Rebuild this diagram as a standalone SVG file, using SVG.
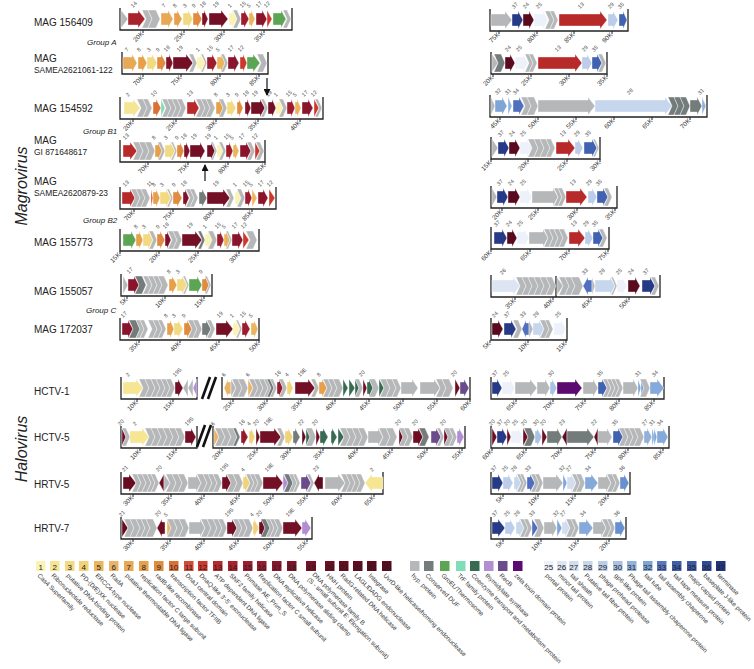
<svg xmlns="http://www.w3.org/2000/svg" width="754" height="669" viewBox="0 0 754 669">
<defs>
<style>
text{font-family:"Liberation Sans",Arial,sans-serif;fill:#222}
.t path{stroke:#fff;stroke-width:.4}
.t path.fr{fill:none;stroke:#222;stroke-width:1.3}
.t path.tk{fill:none;stroke:#222;stroke-width:1}
.nm{font-size:10px}
.sm{font-size:8.4px}
.n{font-size:5.5px;fill:#444}
.k{font-size:6.5px;fill:#333;text-anchor:end}
.gp{font-size:8px;font-style:italic}
.big{font-size:16px;font-style:italic;text-anchor:middle}
.lg text{font-size:6.3px;fill:#333}
.ln{font-size:8px;text-anchor:middle;fill:#222}
.g{fill:#B5B7B9}.d{fill:#737C7B}.gr{fill:#5BA553}.tr{fill:#7FDDB7}.cz{fill:#386B52}.th{fill:#B18ED1}.rb{fill:#6A4C8C}.zt{fill:#5C0A72}
.c1{fill:#FBF3B3}.c2{fill:#F6E593}.c3{fill:#F2DA82}.c4{fill:#F0D377}.c5{fill:#EAB55B}.c6{fill:#EAB468}.c7{fill:#E7A953}.c8{fill:#E6A04A}
.c9{fill:#E18B3E}.c10{fill:#DB7034}.c11{fill:#D34A36}.c12{fill:#CC392C}.c13{fill:#B8292A}.c14{fill:#A9232C}.c15{fill:#9D1C2E}.c16{fill:#961A2E}
.c17{fill:#8A142C}.c18{fill:#7F1228}.c19{fill:#741026}.c20{fill:#6D0E23}.c21{fill:#660C20}.c22{fill:#620B21}.c23{fill:#5D0B1F}.c24{fill:#590A1E}
.b25{fill:#EDF1FA}.b26{fill:#DDE5F2}.b27{fill:#D2DEF0}.b28{fill:#C6D6EC}.b29{fill:#BBCDE8}.b30{fill:#A9C2E3}.b31{fill:#90B1DC}.b32{fill:#7FA5D6}
.b33{fill:#4E70BE}.b34{fill:#84A9DA}.b35{fill:#4062B0}.b36{fill:#6690CE}.b37{fill:#273A88}
.con{stroke:#111;stroke-width:1.2;fill:none}
.brk{stroke:#111;stroke-width:2.6}
</style>
<marker id="ah" markerUnits="userSpaceOnUse" markerWidth="7" markerHeight="7" refX="6" refY="3.5" orient="auto"><path d="M0 0L7 3.5L0 7Z" fill="#111"/></marker>
</defs>
<rect width="754" height="669" fill="#fff"/>

<text class="big" transform="translate(27,186) rotate(-90)">Magrovirus</text>
<text class="big" transform="translate(27,449) rotate(-90)">Halovirus</text>
<text class="gp" x="87" y="45">Group A</text>
<text class="gp" x="83" y="134">Group B1</text>
<text class="gp" x="83" y="223">Group B2</text>
<text class="gp" x="86" y="313">Group C</text>

<!-- MAG 156409 -->
<g id="mag156409">
<text class="nm" x="34" y="26">MAG 156409</text>
<g class="t" transform="translate(0,19)">
<path class="fr" d="M120 -11V11H292V-11"/>
<path class="g" d="M121 -9L128 0L121 9Z"/><path class="c14" d="M128 -6H138V-9L145 0L138 9V6H128Z"/>
<path class="g" d="M142 -9H148L152 0L148 9H142L146 0Z"/><path class="g" d="M148 -9H156L160 0L156 9H148L152 0Z"/>
<path class="c7" d="M161 -6H168V-9L173 0L168 9V6H161Z"/><path class="c8" d="M174 -6H177V-9L182 0L177 9V6H174Z"/>
<path class="c3" d="M183 -6H188V-9L193 0L188 9V6H183Z"/><path class="c9" d="M193 -6H197V-9L202 0L197 9V6H193Z"/>
<path class="c18" d="M202 -6H204V-9L208 0L204 9V6H202Z"/><path class="c19" d="M209 -6H221V-9L228 0L221 9V6H209Z"/>
<path class="c1" d="M229 -6H232V-9L237 0L232 9V6H229Z"/><path class="g" d="M233 -9H237L241 0L237 9H233L237 0Z"/>
<path class="c15" d="M241 -6H244V-9L249 0L244 9V6H241Z"/><path class="c5" d="M249 -6H251V-9L255 0L251 9V6H249Z"/>
<path class="c17" d="M256 -6H262V-9L267 0L262 9V6H256Z"/><path class="c12" d="M267 -9L272 0L267 9Z"/>
<path class="gr" d="M273 -6H281V-9L286 0L281 9V6H273Z"/><path class="g" d="M283 -9H287L291 0L287 9H283L287 0Z"/>
<text class="n" transform="translate(133,-11) rotate(-45)">14</text><text class="n" transform="translate(164,-11) rotate(-45)">7</text>
<text class="n" transform="translate(175,-11) rotate(-45)">8</text><text class="n" transform="translate(185,-11) rotate(-45)">3</text>
<text class="n" transform="translate(194,-11) rotate(-45)">9</text><text class="n" transform="translate(202,-11) rotate(-45)">18</text>
<text class="n" transform="translate(215,-11) rotate(-45)">19</text><text class="n" transform="translate(230,-11) rotate(-45)">1</text>
<text class="n" transform="translate(242,-11) rotate(-45)">15</text><text class="n" transform="translate(249,-11) rotate(-45)">5</text>
<text class="n" transform="translate(258,-11) rotate(-45)">17</text><text class="n" transform="translate(266,-11) rotate(-45)">12</text>
<path class="tk" d="M143 11v3M184 11v3M224 11v3M264 11v3"/>
<text class="k" transform="translate(144,15) rotate(-45)">20K</text><text class="k" transform="translate(185,15) rotate(-45)">25K</text>
<text class="k" transform="translate(225,15) rotate(-45)">30K</text><text class="k" transform="translate(265,15) rotate(-45)">35K</text>
</g>
<g class="t" transform="translate(0,20)">
<path class="fr" d="M490 -11V11H628V-11"/>
<path class="g" d="M491 -6H505V-9L512 0L505 9V6H491Z"/><path class="b37" d="M512 -6H518V-9L523 0L518 9V6H512Z"/>
<path class="c24" d="M523 -6H529V-9L534 0L529 9V6H523Z"/><path class="b25" d="M534 -6H543V-9L548 0L543 9V6H534Z"/>
<path class="g" d="M545 -9H550L554 0L550 9H545L549 0Z"/><path class="g" d="M550 -9H554L558 0L554 9H550L554 0Z"/>
<path class="c13" d="M559 -6H600V-9L607 0L600 9V6H559Z"/><path class="b29" d="M608 -6H613V-9L618 0L613 9V6H608Z"/>
<path class="b35" d="M619 -6H623V-9L627 0L623 9V6H619Z"/>
<text class="n" transform="translate(514,-11) rotate(-45)">37</text><text class="n" transform="translate(525,-11) rotate(-45)">24</text>
<text class="n" transform="translate(538,-11) rotate(-45)">25</text><text class="n" transform="translate(580,-11) rotate(-45)">13</text>
<text class="n" transform="translate(610,-11) rotate(-45)">29</text><text class="n" transform="translate(620,-11) rotate(-45)">35</text>
<path class="tk" d="M499 11v3M537 11v3M574 11v3M612 11v3"/>
<text class="k" transform="translate(500,15) rotate(-45)">75K</text><text class="k" transform="translate(538,15) rotate(-45)">80K</text>
<text class="k" transform="translate(575,15) rotate(-45)">85K</text><text class="k" transform="translate(613,15) rotate(-45)">90K</text>
</g>
</g>

<!-- MAG SAMEA2621061-122 -->
<g id="samea2621061">
<text class="nm" x="34" y="62">MAG</text><text class="sm" x="34" y="73">SAMEA2621061-122</text>
<g class="t" transform="translate(0,63)">
<path class="fr" d="M122 -11V11H268V-11"/>
<path class="c7" d="M123 -6H132V-9L137 0L132 9V6H123Z"/><path class="c8" d="M138 -6H142V-9L147 0L142 9V6H138Z"/>
<path class="c3" d="M147 -6H152V-9L157 0L152 9V6H147Z"/><path class="c9" d="M157 -6H161V-9L166 0L161 9V6H157Z"/>
<path class="c18" d="M166 -6H169V-9L173 0L169 9V6H166Z"/><path class="c19" d="M173 -6H186V-9L193 0L186 9V6H173Z"/>
<path class="g" d="M189 -9H193L197 0L193 9H189L193 0Z"/><path class="c1" d="M197 -6H200V-9L205 0L200 9V6H197Z"/>
<path class="g" d="M201 -9H203L207 0L203 9H201L205 0Z"/><path class="c15" d="M207 -6H212V-9L217 0L212 9V6H207Z"/>
<path class="c5" d="M217 -6H221V-9L225 0L221 9V6H217Z"/><path class="g" d="M221 -9H224L228 0L224 9H221L225 0Z"/>
<path class="c17" d="M228 -6H234V-9L239 0L234 9V6H228Z"/><path class="c12" d="M240 -6H243V-9L247 0L243 9V6H240Z"/>
<path class="gr" d="M247 -6H253V-9L260 0L253 9V6H247Z"/><path class="g" d="M257 -9H263L267 0L263 9H257L261 0Z"/>
<text class="n" transform="translate(127,-11) rotate(-45)">7</text><text class="n" transform="translate(139,-11) rotate(-45)">8</text>
<text class="n" transform="translate(149,-11) rotate(-45)">3</text><text class="n" transform="translate(158,-11) rotate(-45)">9</text>
<text class="n" transform="translate(166,-11) rotate(-45)">18</text><text class="n" transform="translate(179,-11) rotate(-45)">19</text>
<text class="n" transform="translate(198,-11) rotate(-45)">1</text><text class="n" transform="translate(209,-11) rotate(-45)">15</text>
<text class="n" transform="translate(218,-11) rotate(-45)">5</text><text class="n" transform="translate(230,-11) rotate(-45)">17</text>
<text class="n" transform="translate(240,-11) rotate(-45)">12</text>
<path class="tk" d="M143 11v3M181 11v3M220 11v3M259 11v3"/>
<text class="k" transform="translate(144,15) rotate(-45)">70K</text><text class="k" transform="translate(182,15) rotate(-45)">75K</text>
<text class="k" transform="translate(221,15) rotate(-45)">80K</text><text class="k" transform="translate(260,15) rotate(-45)">85K</text>
</g>
<g class="t" transform="translate(0,63)">
<path class="fr" d="M491 -11V11H607V-11"/>
<path class="g" d="M492 -9L498 0L492 9Z"/><path class="d" d="M494 -9H501L505 0L501 9H494L498 0Z"/>
<path class="c24" d="M505 -6H510V-9L515 0L510 9V6H505Z"/><path class="b25" d="M515 -6H523V-9L528 0L523 9V6H515Z"/>
<path class="g" d="M525 -9H529L533 0L529 9H525L529 0Z"/><path class="g" d="M529 -9H533L537 0L533 9H529L533 0Z"/>
<path class="c13" d="M538 -6H575V-9L582 0L575 9V6H538Z"/><path class="b29" d="M582 -6H587V-9L592 0L587 9V6H582Z"/>
<path class="b35" d="M592 -6H597V-9L602 0L597 9V6H592Z"/><path class="g" d="M598 -9H602L606 0L602 9H598L602 0Z"/>
<text class="n" transform="translate(507,-11) rotate(-45)">24</text><text class="n" transform="translate(518,-11) rotate(-45)">25</text>
<text class="n" transform="translate(557,-11) rotate(-45)">13</text><text class="n" transform="translate(584,-11) rotate(-45)">29</text>
<text class="n" transform="translate(594,-11) rotate(-45)">35</text>
<path class="tk" d="M493 11v3M531 11v3M569 11v3M607 11v3"/>
<text class="k" transform="translate(494,15) rotate(-45)">20K</text><text class="k" transform="translate(532,15) rotate(-45)">25K</text>
<text class="k" transform="translate(570,15) rotate(-45)">30K</text><text class="k" transform="translate(608,15) rotate(-45)">35K</text>
</g>
</g>

<!-- MAG 154592 -->
<g id="mag154592">
<text class="nm" x="34" y="112">MAG 154592</text>
<g class="t" transform="translate(0,108)">
<path class="fr" d="M120 -11V11H323V-11"/>
<path class="c2" d="M124 -6H133V-9L140 0L133 9V6H124Z"/><path class="g" d="M137 -9H143L147 0L143 9H137L141 0Z"/><path class="g" d="M143 -9H148L152 0L148 9H143L147 0Z"/>
<path class="c10" d="M153 -6H156V-9L161 0L156 9V6H153Z"/><path class="tr" d="M161 -9L165 0L161 9Z"/>
<path class="g" d="M162 -9H167L171 0L167 9H162L166 0Z"/><path class="g" d="M167 -9H172L176 0L172 9H167L171 0Z"/><path class="g" d="M172 -9H177L181 0L177 9H172L176 0Z"/><path class="g" d="M177 -9H182L186 0L182 9H177L181 0Z"/>
<path class="c13" d="M187 -6H194V-9L199 0L194 9V6H187Z"/>
<path class="g" d="M196 -9H201L205 0L201 9H196L200 0Z"/><path class="g" d="M201 -9H206L210 0L206 9H201L205 0Z"/><path class="g" d="M206 -9H211L215 0L211 9H206L210 0Z"/>
<path class="c8" d="M216 -6H219V-9L223 0L219 9V6H216Z"/><path class="g" d="M219 -9H223L227 0L223 9H219L223 0Z"/>
<path class="c3" d="M227 -6H231V-9L236 0L231 9V6H227Z"/><path class="c9" d="M237 -6H239V-9L243 0L239 9V6H237Z"/>
<path class="c18" d="M245 -6H247V-9L251 0L247 9V6H245Z"/><path class="c19" d="M251 -6H260V-9L265 0L260 9V6H251Z"/>
<path class="g" d="M261 -9H264L268 0L264 9H261L265 0Z"/><path class="c19" d="M268 -6H272V-9L276 0L272 9V6H268Z"/>
<path class="c1" d="M276 -6H279V-9L283 0L279 9V6H276Z"/><path class="g" d="M279 -9H283L287 0L283 9H279L283 0Z"/>
<path class="c15" d="M287 -6H291V-9L295 0L291 9V6H287Z"/><path class="c5" d="M295 -6H297V-9L301 0L297 9V6H295Z"/>
<path class="c17" d="M302 -6H308V-9L313 0L308 9V6H302Z"/><path class="c12" d="M314 -9L319 0L314 9Z"/><path class="g" d="M315 -9H318L322 0L318 9H315L319 0Z"/>
<text class="n" transform="translate(128,-11) rotate(-45)">2</text><text class="n" transform="translate(153,-11) rotate(-45)">10</text>
<text class="n" transform="translate(189,-11) rotate(-45)">13</text><text class="n" transform="translate(216,-11) rotate(-45)">8</text>
<text class="n" transform="translate(228,-11) rotate(-45)">3</text><text class="n" transform="translate(237,-11) rotate(-45)">9</text>
<text class="n" transform="translate(245,-11) rotate(-45)">18</text><text class="n" transform="translate(254,-11) rotate(-45)">19</text>
<text class="n" transform="translate(268,-11) rotate(-45)">19</text><text class="n" transform="translate(276,-11) rotate(-45)">1</text>
<text class="n" transform="translate(288,-11) rotate(-45)">15</text><text class="n" transform="translate(295,-11) rotate(-45)">5</text>
<text class="n" transform="translate(304,-11) rotate(-45)">17</text><text class="n" transform="translate(313,-11) rotate(-45)">12</text>
<path class="tk" d="M133 11v3M176 11v3M216 11v3M258 11v3M300 11v3"/>
<text class="k" transform="translate(134,15) rotate(-45)">20K</text><text class="k" transform="translate(177,15) rotate(-45)">25K</text>
<text class="k" transform="translate(217,15) rotate(-45)">30K</text><text class="k" transform="translate(259,15) rotate(-45)">35K</text>
<text class="k" transform="translate(301,15) rotate(-45)">40K</text>
</g>
<g class="t" transform="translate(0,106)">
<path class="fr" d="M490 -11V11H707V-11"/>
<path class="g" d="M491 -9L495 0L491 9Z"/><path class="b32" d="M495 -6H502V-9L507 0L502 9V6H495Z"/>
<path class="b31" d="M508 -9L512 0L508 9Z"/><path class="b33" d="M513 -6H519V-9L524 0L519 9V6H513Z"/>
<path class="g" d="M521 -9H527L531 0L527 9H521L525 0Z"/><path class="g" d="M527 -9H534L538 0L534 9H527L531 0Z"/>
<path class="g" d="M538 -6H588V-9L595 0L588 9V6H538Z"/><path class="b28" d="M595 -6H665V-9L672 0L665 9V6H595Z"/>
<path class="d" d="M668 -9H674L678 0L674 9H668L672 0Z"/><path class="d" d="M674 -9H680L684 0L680 9H674L678 0Z"/><path class="d" d="M680 -9H686L690 0L686 9H680L684 0Z"/>
<path class="d" d="M690 -6H697V-9L702 0L697 9V6H690Z"/><path class="b31" d="M702 -9L706 0L702 9Z"/>
<text class="n" transform="translate(497,-11) rotate(-45)">32</text><text class="n" transform="translate(507,-11) rotate(-45)">31</text>
<text class="n" transform="translate(515,-11) rotate(-45)">34</text><text class="n" transform="translate(629,-11) rotate(-45)">28</text>
<text class="n" transform="translate(700,-11) rotate(-45)">31</text>
<path class="tk" d="M500 11v3M538 11v3M576 11v3M614 11v3M652 11v3M690 11v3"/>
<text class="k" transform="translate(501,15) rotate(-45)">45K</text><text class="k" transform="translate(539,15) rotate(-45)">50K</text>
<text class="k" transform="translate(577,15) rotate(-45)">55K</text><text class="k" transform="translate(615,15) rotate(-45)">60K</text>
<text class="k" transform="translate(653,15) rotate(-45)">65K</text><text class="k" transform="translate(691,15) rotate(-45)">70K</text>
</g>
</g>

<!-- MAG GI 871648617 -->
<g id="gi871648617">
<text class="nm" x="34" y="144">MAG</text><text class="sm" x="34" y="155">GI 871648617</text>
<g class="t" transform="translate(0,151)">
<path class="fr" d="M120 -11V11H265V-11"/>
<path class="c13" d="M123 -6H130V-9L137 0L130 9V6H123Z"/>
<path class="g" d="M133 -9H139L143 0L139 9H133L137 0Z"/><path class="g" d="M139 -9H145L149 0L145 9H139L143 0Z"/><path class="g" d="M145 -9H151L155 0L151 9H145L149 0Z"/>
<path class="c8" d="M155 -6H158V-9L162 0L158 9V6H155Z"/><path class="g" d="M158 -9H161L165 0L161 9H158L162 0Z"/>
<path class="c3" d="M165 -6H170V-9L175 0L170 9V6H165Z"/><path class="g" d="M171 -9H173L177 0L173 9H171L175 0Z"/>
<path class="c9" d="M177 -6H180V-9L184 0L180 9V6H177Z"/><path class="c18" d="M184 -6H186V-9L190 0L186 9V6H184Z"/>
<path class="c19" d="M190 -6H200V-9L205 0L200 9V6H190Z"/><path class="c19" d="M207 -6H211V-9L215 0L211 9V6H207Z"/>
<path class="g" d="M211 -9H213L217 0L213 9H211L215 0Z"/><path class="c1" d="M217 -6H219V-9L223 0L219 9V6H217Z"/>
<path class="g" d="M219 -9H222L226 0L222 9H219L223 0Z"/><path class="c15" d="M226 -6H229V-9L233 0L229 9V6H226Z"/>
<path class="c5" d="M233 -6H235V-9L239 0L235 9V6H233Z"/><path class="c17" d="M240 -6H246V-9L251 0L246 9V6H240Z"/>
<path class="g" d="M247 -9H251L255 0L251 9H247L251 0Z"/><path class="c12" d="M255 -9L260 0L255 9Z"/><path class="g" d="M256 -9H260L264 0L260 9H256L260 0Z"/>
<text class="n" transform="translate(125,-11) rotate(-45)">13</text><text class="n" transform="translate(154,-11) rotate(-45)">8</text>
<text class="n" transform="translate(166,-11) rotate(-45)">3</text><text class="n" transform="translate(177,-11) rotate(-45)">9</text>
<text class="n" transform="translate(183,-11) rotate(-45)">18</text><text class="n" transform="translate(193,-11) rotate(-45)">19</text>
<text class="n" transform="translate(207,-11) rotate(-45)">19</text><text class="n" transform="translate(216,-11) rotate(-45)">1</text>
<text class="n" transform="translate(226,-11) rotate(-45)">15</text><text class="n" transform="translate(232,-11) rotate(-45)">5</text>
<text class="n" transform="translate(241,-11) rotate(-45)">17</text><text class="n" transform="translate(254,-11) rotate(-45)">12</text>
<path class="tk" d="M148 11v3M188 11v3M228 11v3M265 11v3"/>
<text class="k" transform="translate(149,15) rotate(-45)">70K</text><text class="k" transform="translate(189,15) rotate(-45)">75K</text>
<text class="k" transform="translate(229,15) rotate(-45)">80K</text><text class="k" transform="translate(266,15) rotate(-45)">85K</text>
</g>
<g class="t" transform="translate(0,148)">
<path class="fr" d="M491 -11V11H600V-11"/>
<path class="g" d="M492 -9L498 0L492 9Z"/><path class="b37" d="M498 -6H504V-9L509 0L504 9V6H498Z"/>
<path class="c24" d="M509 -6H515V-9L520 0L515 9V6H509Z"/><path class="b25" d="M520 -6H527V-9L532 0L527 9V6H520Z"/>
<path class="g" d="M528 -9H534L538 0L534 9H528L532 0Z"/><path class="g" d="M534 -9H540L544 0L540 9H534L538 0Z"/><path class="g" d="M540 -9H546L550 0L546 9H540L544 0Z"/><path class="g" d="M546 -9H551L555 0L551 9H546L550 0Z"/>
<path class="c13" d="M556 -6H568V-9L575 0L568 9V6H556Z"/><path class="b29" d="M575 -6H578V-9L583 0L578 9V6H575Z"/>
<path class="b35" d="M584 -6H592V-9L597 0L592 9V6H584Z"/><path class="g" d="M593 -9H595L599 0L595 9H593L597 0Z"/>
<text class="n" transform="translate(500,-11) rotate(-45)">37</text><text class="n" transform="translate(511,-11) rotate(-45)">24</text>
<text class="n" transform="translate(522,-11) rotate(-45)">25</text><text class="n" transform="translate(562,-11) rotate(-45)">13</text>
<text class="n" transform="translate(576,-11) rotate(-45)">29</text><text class="n" transform="translate(587,-11) rotate(-45)">35</text>
<path class="tk" d="M491 11v3M528 11v3M567 11v3M600 11v3"/>
<text class="k" transform="translate(492,15) rotate(-45)">15K</text><text class="k" transform="translate(529,15) rotate(-45)">20K</text>
<text class="k" transform="translate(568,15) rotate(-45)">25K</text><text class="k" transform="translate(601,15) rotate(-45)">30K</text>
</g>
</g>

<!-- MAG SAMEA2620879-23 -->
<g id="samea2620879">
<text class="nm" x="34" y="185">MAG</text><text class="sm" x="34" y="196">SAMEA2620879-23</text>
<g class="t" transform="translate(0,198)">
<path class="fr" d="M120 -11V11H276V-11"/>
<path class="c13" d="M122 -6H130V-9L135 0L130 9V6H122Z"/>
<path class="g" d="M131 -9H136L140 0L136 9H131L135 0Z"/><path class="g" d="M136 -9H141L145 0L141 9H136L140 0Z"/><path class="g" d="M141 -9H146L150 0L146 9H141L145 0Z"/>
<path class="c11" d="M151 -9L153 0L151 9Z"/><path class="c8" d="M153 -6H156V-9L160 0L156 9V6H153Z"/>
<path class="c3" d="M160 -6H166V-9L171 0L166 9V6H160Z"/><path class="g" d="M167 -9H169L173 0L169 9H167L171 0Z"/>
<path class="c9" d="M173 -6H177V-9L182 0L177 9V6H173Z"/><path class="c18" d="M183 -6H185V-9L189 0L185 9V6H183Z"/>
<path class="g" d="M186 -9H190L194 0L190 9H186L190 0Z"/><path class="g" d="M190 -9H194L198 0L194 9H190L194 0Z"/>
<path class="d" d="M199 -6H202V-9L207 0L202 9V6H199Z"/><path class="c19" d="M207 -6H223V-9L230 0L223 9V6H207Z"/>
<path class="g" d="M226 -9H230L234 0L230 9H226L230 0Z"/><path class="c1" d="M235 -6H237V-9L241 0L237 9V6H235Z"/>
<path class="g" d="M237 -9H241L245 0L241 9H237L241 0Z"/><path class="c15" d="M245 -6H248V-9L252 0L248 9V6H245Z"/>
<path class="c5" d="M252 -9L257 0L252 9Z"/><path class="c17" d="M258 -6H263V-9L268 0L263 9V6H258Z"/>
<path class="c12" d="M269 -9L275 0L269 9Z"/>
<text class="n" transform="translate(125,-11) rotate(-45)">13</text><text class="n" transform="translate(149,-11) rotate(-45)">11</text>
<text class="n" transform="translate(154,-11) rotate(-45)">8</text><text class="n" transform="translate(162,-11) rotate(-45)">3</text>
<text class="n" transform="translate(174,-11) rotate(-45)">9</text><text class="n" transform="translate(183,-11) rotate(-45)">18</text>
<text class="n" transform="translate(215,-11) rotate(-45)">19</text><text class="n" transform="translate(235,-11) rotate(-45)">1</text>
<text class="n" transform="translate(245,-11) rotate(-45)">15</text><text class="n" transform="translate(251,-11) rotate(-45)">5</text>
<text class="n" transform="translate(260,-11) rotate(-45)">17</text><text class="n" transform="translate(269,-11) rotate(-45)">12</text>
<path class="tk" d="M134 11v3M173 11v3M213 11v3M252 11v3"/>
<text class="k" transform="translate(135,15) rotate(-45)">70K</text><text class="k" transform="translate(174,15) rotate(-45)">75K</text>
<text class="k" transform="translate(214,15) rotate(-45)">80K</text><text class="k" transform="translate(253,15) rotate(-45)">85K</text>
</g>
<g class="t" transform="translate(0,197)">
<path class="fr" d="M491 -11V11H617V-11"/>
<path class="g" d="M492 -9L497 0L492 9Z"/><path class="b37" d="M497 -6H503V-9L508 0L503 9V6H497Z"/>
<path class="c24" d="M508 -6H515V-9L520 0L515 9V6H508Z"/><path class="b25" d="M520 -6H527V-9L532 0L527 9V6H520Z"/>
<path class="g" d="M532 -6H553V-9L558 0L553 9V6H532Z"/><path class="g" d="M554 -9H558L562 0L558 9H554L558 0Z"/><path class="g" d="M558 -9H562L566 0L562 9H558L562 0Z"/>
<path class="c13" d="M566 -6H580V-9L587 0L580 9V6H566Z"/><path class="b29" d="M588 -6H592V-9L597 0L592 9V6H588Z"/>
<path class="b35" d="M597 -6H603V-9L608 0L603 9V6H597Z"/><path class="g" d="M604 -9H608L612 0L608 9H604L608 0Z"/>
<text class="n" transform="translate(499,-11) rotate(-45)">37</text><text class="n" transform="translate(510,-11) rotate(-45)">24</text>
<text class="n" transform="translate(522,-11) rotate(-45)">25</text><text class="n" transform="translate(572,-11) rotate(-45)">13</text>
<text class="n" transform="translate(588,-11) rotate(-45)">29</text><text class="n" transform="translate(598,-11) rotate(-45)">35</text>
<path class="tk" d="M502 11v3M538 11v3M577 11v3M615 11v3"/>
<text class="k" transform="translate(503,15) rotate(-45)">20K</text><text class="k" transform="translate(539,15) rotate(-45)">25K</text>
<text class="k" transform="translate(578,15) rotate(-45)">30K</text><text class="k" transform="translate(616,15) rotate(-45)">35K</text>
</g>
</g>

<!-- MAG 155773 -->
<g id="mag155773">
<text class="nm" x="34" y="246">MAG 155773</text>
<g class="t" transform="translate(0,240)">
<path class="fr" d="M120 -11V11H259V-11"/>
<path class="gr" d="M123 -6H131V-9L136 0L131 9V6H123Z"/><path class="c8" d="M136 -6H139V-9L143 0L139 9V6H136Z"/>
<path class="c3" d="M143 -6H148V-9L153 0L148 9V6H143Z"/><path class="g" d="M149 -9H153L157 0L153 9H149L153 0Z"/>
<path class="c9" d="M157 -6H160V-9L165 0L160 9V6H157Z"/><path class="c18" d="M165 -6H167V-9L171 0L167 9V6H165Z"/>
<path class="g" d="M168 -9H173L177 0L173 9H168L172 0Z"/><path class="g" d="M173 -9H178L182 0L178 9H173L177 0Z"/>
<path class="c19" d="M182 -6H195V-9L202 0L195 9V6H182Z"/><path class="d" d="M198 -9H201L205 0L201 9H198L202 0Z"/>
<path class="c1" d="M205 -6H208V-9L212 0L208 9V6H205Z"/><path class="g" d="M208 -9H213L217 0L213 9H208L212 0Z"/>
<path class="c15" d="M217 -6H220V-9L224 0L220 9V6H217Z"/><path class="c5" d="M224 -6H226V-9L230 0L226 9V6H224Z"/>
<path class="g" d="M226 -9H228L232 0L228 9H226L230 0Z"/><path class="c17" d="M232 -6H238V-9L243 0L238 9V6H232Z"/>
<path class="c12" d="M243 -9L249 0L243 9Z"/><path class="g" d="M246 -9H253L257 0L253 9H246L250 0Z"/>
<text class="n" transform="translate(136,-11) rotate(-45)">8</text><text class="n" transform="translate(144,-11) rotate(-45)">3</text>
<text class="n" transform="translate(158,-11) rotate(-45)">9</text><text class="n" transform="translate(165,-11) rotate(-45)">18</text>
<text class="n" transform="translate(189,-11) rotate(-45)">19</text><text class="n" transform="translate(205,-11) rotate(-45)">1</text>
<text class="n" transform="translate(217,-11) rotate(-45)">15</text><text class="n" transform="translate(224,-11) rotate(-45)">5</text>
<text class="n" transform="translate(234,-11) rotate(-45)">17</text><text class="n" transform="translate(243,-11) rotate(-45)">12</text>
<path class="tk" d="M120 11v3M159 11v3M198 11v3M239 11v3"/>
<text class="k" transform="translate(121,15) rotate(-45)">15K</text><text class="k" transform="translate(160,15) rotate(-45)">20K</text>
<text class="k" transform="translate(199,15) rotate(-45)">25K</text><text class="k" transform="translate(240,15) rotate(-45)">30K</text>
</g>
<g class="t" transform="translate(0,238)">
<path class="fr" d="M491 -11V11H609V-11"/>
<path class="b37" d="M494 -6H502V-9L507 0L502 9V6H494Z"/><path class="c24" d="M507 -6H512V-9L517 0L512 9V6H507Z"/>
<path class="b25" d="M517 -6H524V-9L529 0L524 9V6H517Z"/>
<path class="g" d="M529 -6H543V-9L548 0L543 9V6H529Z"/><path class="g" d="M544 -9H549L553 0L549 9H544L548 0Z"/><path class="g" d="M549 -9H554L558 0L554 9H549L553 0Z"/><path class="g" d="M554 -9H559L563 0L559 9H554L558 0Z"/><path class="g" d="M559 -9H564L568 0L564 9H559L563 0Z"/>
<path class="c13" d="M569 -6H578V-9L585 0L578 9V6H569Z"/><path class="b29" d="M585 -6H588V-9L593 0L588 9V6H585Z"/>
<path class="b35" d="M593 -6H598V-9L603 0L598 9V6H593Z"/><path class="g" d="M599 -9H603L607 0L603 9H599L603 0Z"/>
<text class="n" transform="translate(496,-11) rotate(-45)">37</text><text class="n" transform="translate(508,-11) rotate(-45)">24</text>
<text class="n" transform="translate(519,-11) rotate(-45)">25</text><text class="n" transform="translate(573,-11) rotate(-45)">13</text>
<text class="n" transform="translate(585,-11) rotate(-45)">29</text><text class="n" transform="translate(594,-11) rotate(-45)">35</text>
<path class="tk" d="M491 11v3M530 11v3M569 11v3M608 11v3"/>
<text class="k" transform="translate(492,15) rotate(-45)">60K</text><text class="k" transform="translate(531,15) rotate(-45)">65K</text>
<text class="k" transform="translate(570,15) rotate(-45)">70K</text><text class="k" transform="translate(609,15) rotate(-45)">75K</text>
</g>
</g>

<!-- MAG 155057 -->
<g id="mag155057">
<text class="nm" x="34" y="295">MAG 155057</text>
<g class="t" transform="translate(0,285)">
<path class="fr" d="M121 -11V11H212V-11"/>
<path class="g" d="M123 -9L128 0L123 9Z"/><path class="c17" d="M128 -6H134V-9L139 0L134 9V6H128Z"/>
<path class="d" d="M135 -9H142L146 0L142 9H135L139 0Z"/>
<path class="g" d="M143 -9H148L152 0L148 9H143L147 0Z"/><path class="g" d="M148 -9H153L157 0L153 9H148L152 0Z"/><path class="g" d="M153 -9H158L162 0L158 9H153L157 0Z"/><path class="g" d="M158 -9H164L168 0L164 9H158L162 0Z"/>
<path class="c8" d="M169 -6H172V-9L177 0L172 9V6H169Z"/><path class="c3" d="M177 -6H182V-9L187 0L182 9V6H177Z"/>
<path class="g" d="M183 -9H185L189 0L185 9H183L187 0Z"/><path class="gr" d="M189 -6H197V-9L202 0L197 9V6H189Z"/>
<path class="c9" d="M202 -6H205V-9L209 0L205 9V6H202Z"/><path class="g" d="M205 -9H207L211 0L207 9H205L209 0Z"/>
<text class="n" transform="translate(129,-11) rotate(-45)">17</text><text class="n" transform="translate(169,-11) rotate(-45)">8</text>
<text class="n" transform="translate(178,-11) rotate(-45)">3</text><text class="n" transform="translate(201,-11) rotate(-45)">9</text>
<path class="tk" d="M127 11v3M165 11v3M204 11v3"/>
<text class="k" transform="translate(128,15) rotate(-45)">5K</text><text class="k" transform="translate(166,15) rotate(-45)">10K</text>
<text class="k" transform="translate(205,15) rotate(-45)">15K</text>
</g>
<g class="t" transform="translate(0,286)">
<path class="fr" d="M491 -11V11H660V-11M556 -10V11"/>
<path class="b26" d="M492 -6H513V-9L520 0L513 9V6H492Z"/>
<path class="g" d="M516 -9H522L526 0L522 9H516L520 0Z"/><path class="g" d="M522 -9H528L532 0L528 9H522L526 0Z"/><path class="g" d="M528 -9H534L538 0L534 9H528L532 0Z"/><path class="g" d="M534 -9H540L544 0L540 9H534L538 0Z"/><path class="g" d="M540 -9H546L550 0L546 9H540L544 0Z"/><path class="g" d="M546 -9H552L556 0L552 9H546L550 0Z"/>
<path class="g" d="M557 -9L563 0L557 9Z"/><path class="g" d="M559 -9H565L569 0L565 9H559L563 0Z"/><path class="g" d="M565 -9H571L575 0L571 9H565L569 0Z"/><path class="g" d="M571 -9H579L583 0L579 9H571L575 0Z"/>
<path class="b33" d="M592 -6H588V-9L583 0L588 9V6H592Z"/><path class="g" d="M592 -9L595 0L592 9Z"/>
<path class="b28" d="M595 -6H610V-9L615 0L610 9V6H595Z"/><path class="g" d="M611 -9H613L617 0L613 9H611L615 0Z"/>
<path class="b25" d="M617 -6H622V-9L627 0L622 9V6H617Z"/><path class="c24" d="M628 -6H635V-9L640 0L635 9V6H628Z"/>
<path class="b37" d="M642 -6H650V-9L655 0L650 9V6H642Z"/><path class="g" d="M651 -9H655L659 0L655 9H651L655 0Z"/>
<text class="n" transform="translate(502,-11) rotate(-45)">26</text><text class="n" transform="translate(584,-11) rotate(-45)">33</text>
<text class="n" transform="translate(601,-11) rotate(-45)">28</text><text class="n" transform="translate(618,-11) rotate(-45)">25</text>
<text class="n" transform="translate(630,-11) rotate(-45)">24</text><text class="n" transform="translate(645,-11) rotate(-45)">37</text>
<path class="tk" d="M515 11v3M553 11v3M591 11v3M629 11v3"/>
<text class="k" transform="translate(516,15) rotate(-45)">35K</text><text class="k" transform="translate(554,15) rotate(-45)">40K</text>
<text class="k" transform="translate(592,15) rotate(-45)">45K</text><text class="k" transform="translate(630,15) rotate(-45)">50K</text>
</g>
</g>

<!-- MAG 172037 -->
<g id="mag172037">
<text class="nm" x="34" y="333">MAG 172037</text>
<g class="t" transform="translate(0,329)">
<path class="fr" d="M120 -11V11H259V-11"/>
<path class="c17" d="M122 -6H128V-9L133 0L128 9V6H122Z"/><path class="d" d="M129 -9H136L140 0L136 9H129L133 0Z"/>
<path class="g" d="M136 -9H140L144 0L140 9H136L140 0Z"/><path class="g" d="M140 -9H144L148 0L144 9H140L144 0Z"/>
<path class="g" d="M148 -9H153L157 0L153 9H148L152 0Z"/><path class="g" d="M153 -9H158L162 0L158 9H153L157 0Z"/><path class="g" d="M158 -9H162L166 0L162 9H158L162 0Z"/>
<path class="c8" d="M167 -6H170V-9L174 0L170 9V6H167Z"/><path class="c3" d="M174 -6H178V-9L183 0L178 9V6H174Z"/>
<path class="c9" d="M184 -6H187V-9L192 0L187 9V6H184Z"/>
<path class="g" d="M188 -9H193L197 0L193 9H188L192 0Z"/><path class="g" d="M193 -9H198L202 0L198 9H193L197 0Z"/>
<path class="d" d="M202 -6H206V-9L211 0L206 9V6H202Z"/><path class="g" d="M207 -9H211L215 0L211 9H207L211 0Z"/>
<path class="c19" d="M216 -6H226V-9L233 0L226 9V6H216Z"/><path class="c1" d="M233 -6H235V-9L240 0L235 9V6H233Z"/>
<path class="g" d="M236 -9H238L242 0L238 9H236L240 0Z"/><path class="c15" d="M242 -6H245V-9L250 0L245 9V6H242Z"/>
<path class="c5" d="M251 -6H254V-9L258 0L254 9V6H251Z"/>
<text class="n" transform="translate(123,-11) rotate(-45)">17</text><text class="n" transform="translate(166,-11) rotate(-45)">8</text>
<text class="n" transform="translate(174,-11) rotate(-45)">3</text><text class="n" transform="translate(184,-11) rotate(-45)">9</text>
<text class="n" transform="translate(219,-11) rotate(-45)">19</text><text class="n" transform="translate(232,-11) rotate(-45)">1</text>
<text class="n" transform="translate(242,-11) rotate(-45)">15</text><text class="n" transform="translate(251,-11) rotate(-45)">5</text>
<path class="tk" d="M139 11v3M180 11v3M219 11v3M259 11v3"/>
<text class="k" transform="translate(140,15) rotate(-45)">35K</text><text class="k" transform="translate(181,15) rotate(-45)">40K</text>
<text class="k" transform="translate(220,15) rotate(-45)">45K</text><text class="k" transform="translate(260,15) rotate(-45)">50K</text>
</g>
<g class="t" transform="translate(0,329)">
<path class="fr" d="M491 -11V11H567V-11"/>
<path class="c24" d="M492 -6H498V-9L503 0L498 9V6H492Z"/><path class="b37" d="M504 -6H511V-9L516 0L511 9V6H504Z"/>
<path class="g" d="M513 -9H518L522 0L518 9H513L517 0Z"/><path class="b33" d="M529 -6H526V-9L522 0L526 9V6H529Z"/>
<path class="g" d="M529 -9L533 0L529 9Z"/><path class="b28" d="M533 -6H539V-9L544 0L539 9V6H533Z"/>
<path class="g" d="M540 -9H545L549 0L545 9H540L544 0Z"/><path class="g" d="M545 -9H549L553 0L549 9H545L549 0Z"/>
<path class="b25" d="M554 -6H561V-9L566 0L561 9V6H554Z"/>
<text class="n" transform="translate(494,-11) rotate(-45)">24</text><text class="n" transform="translate(506,-11) rotate(-45)">37</text>
<text class="n" transform="translate(522,-11) rotate(-45)">33</text><text class="n" transform="translate(535,-11) rotate(-45)">28</text>
<text class="n" transform="translate(557,-11) rotate(-45)">25</text>
<path class="tk" d="M490 11v3M528 11v3M566 11v3"/>
<text class="k" transform="translate(491,15) rotate(-45)">5K</text><text class="k" transform="translate(529,15) rotate(-45)">10K</text>
<text class="k" transform="translate(567,15) rotate(-45)">15K</text>
</g>
</g>

<!-- HCTV-1 -->
<g id="hctv1">
<text class="nm" x="34" y="395">HCTV-1</text>
<g class="t" transform="translate(0,388)">
<path class="fr" d="M121 -11V11H197V-11"/>
<path class="c2" d="M123 -6H136V-9L143 0L136 9V6H123Z"/>
<path class="g" d="M139 -9H145L149 0L145 9H139L143 0Z"/><path class="g" d="M145 -9H151L155 0L151 9H145L149 0Z"/><path class="g" d="M151 -9H156L160 0L156 9H151L155 0Z"/><path class="g" d="M156 -9H161L165 0L161 9H156L160 0Z"/><path class="g" d="M161 -9H166L170 0L166 9H161L165 0Z"/><path class="g" d="M166 -9H171L175 0L171 9H166L170 0Z"/>
<path class="c19" d="M175 -6H178V-9L183 0L178 9V6H175Z"/>
<path class="g" d="M188 -9L183 0L188 9Z"/><path class="g" d="M193 -9L188 0L193 9Z"/><path class="th" d="M197 -9L193 0L197 9Z"/>
<text class="n" transform="translate(128,-11) rotate(-45)">2</text><text class="n" transform="translate(175,-11) rotate(-45)">19S</text>
<path class="tk" d="M137 11v3M173 11v3"/>
<text class="k" transform="translate(138,15) rotate(-45)">10K</text><text class="k" transform="translate(174,15) rotate(-45)">15K</text>
</g>
<g class="t" transform="translate(0,388)">
<path class="fr" d="M222 -11V11H470V-11"/>
<path class="c6" d="M231 -6H228V-9L224 0L228 9V6H231Z"/>
<path class="g" d="M231 -9L236 0L231 9Z"/><path class="g" d="M232 -9H238L242 0L238 9H232L236 0Z"/><path class="g" d="M238 -9H244L248 0L244 9H238L242 0Z"/>
<path class="c6" d="M248 -9L253 0L248 9Z"/>
<path class="g" d="M249 -9H254L258 0L254 9H249L253 0Z"/><path class="g" d="M254 -9H259L263 0L259 9H254L258 0Z"/><path class="g" d="M259 -9H264L268 0L264 9H259L263 0Z"/><path class="g" d="M264 -9H267L271 0L267 9H264L268 0Z"/>
<path class="d" d="M267 -9H270L274 0L270 9H267L271 0Z"/><path class="g" d="M270 -9H273L277 0L273 9H270L274 0Z"/>
<path class="c16" d="M277 -6H279V-9L283 0L279 9V6H277Z"/><path class="g" d="M279 -9H283L287 0L283 9H279L283 0Z"/>
<path class="c4" d="M287 -6H289V-9L293 0L289 9V6H287Z"/><path class="c19" d="M295 -6H308V-9L315 0L308 9V6H295Z"/>
<path class="g" d="M311 -9H315L319 0L315 9H311L315 0Z"/><path class="c8" d="M319 -6H322V-9L327 0L322 9V6H319Z"/>
<path class="g" d="M323 -9H328L332 0L328 9H323L327 0Z"/><path class="g" d="M328 -9H333L337 0L333 9H328L332 0Z"/><path class="g" d="M333 -9H339L343 0L339 9H333L337 0Z"/>
<path class="cz" d="M343 -9L348 0L343 9Z"/><path class="cz" d="M349 -9L355 0L349 9Z"/><path class="cz" d="M355 -9L359 0L355 9Z"/>
<path class="g" d="M355 -9H359L363 0L359 9H355L359 0Z"/><path class="c20" d="M363 -9L367 0L363 9Z"/>
<path class="cz" d="M367 -6H369V-9L373 0L369 9V6H367Z"/><path class="g" d="M369 -9H375L379 0L375 9H369L373 0Z"/><path class="cz" d="M379 -9L384 0L379 9Z"/>
<path class="g" d="M380 -9H386L390 0L386 9H380L384 0Z"/><path class="g" d="M386 -9H392L396 0L392 9H386L390 0Z"/><path class="g" d="M392 -9H397L401 0L397 9H392L396 0Z"/>
<path class="g" d="M401 -6H412V-9L418 0L412 9V6H401Z"/><path class="g" d="M420 -6H434V-9L440 0L434 9V6H420Z"/>
<path class="g" d="M436 -9H442L446 0L442 9H436L440 0Z"/><path class="g" d="M442 -9H449L453 0L449 9H442L446 0Z"/>
<path class="c20" d="M455 -9L460 0L455 9Z"/><path class="rb" d="M460 -6H464V-9L469 0L464 9V6H460Z"/>
<text class="n" transform="translate(224,-11) rotate(-45)">6</text><text class="n" transform="translate(248,-11) rotate(-45)">6</text>
<text class="n" transform="translate(277,-11) rotate(-45)">16</text><text class="n" transform="translate(287,-11) rotate(-45)">4</text>
<text class="n" transform="translate(300,-11) rotate(-45)">19E</text><text class="n" transform="translate(319,-11) rotate(-45)">8</text>
<text class="n" transform="translate(361,-11) rotate(-45)">20</text><text class="n" transform="translate(453,-11) rotate(-45)">20</text>
<path class="tk" d="M233 11v3M267 11v3M301 11v3M335 11v3M369 11v3M403 11v3M437 11v3M470 11v3"/>
<text class="k" transform="translate(234,15) rotate(-45)">25K</text><text class="k" transform="translate(268,15) rotate(-45)">30K</text>
<text class="k" transform="translate(302,15) rotate(-45)">35K</text><text class="k" transform="translate(336,15) rotate(-45)">40K</text>
<text class="k" transform="translate(370,15) rotate(-45)">45K</text><text class="k" transform="translate(404,15) rotate(-45)">50K</text>
<text class="k" transform="translate(438,15) rotate(-45)">55K</text><text class="k" transform="translate(471,15) rotate(-45)">60K</text>
</g>
<g class="t" transform="translate(0,388)">
<path class="fr" d="M491 -11V11H664V-11"/>
<path class="b37" d="M492 -6H497V-9L502 0L497 9V6H492Z"/><path class="b25" d="M502 -6H510V-9L515 0L510 9V6H502Z"/>
<path class="g" d="M515 -6H530V-9L537 0L530 9V6H515Z"/><path class="g" d="M537 -6H545V-9L550 0L545 9V6H537Z"/>
<path class="b30" d="M550 -6H552V-9L557 0L552 9V6H550Z"/><path class="zt" d="M557 -6H575V-9L582 0L575 9V6H557Z"/>
<path class="g" d="M583 -6H593V-9L598 0L593 9V6H583Z"/><path class="b35" d="M598 -6H602V-9L607 0L602 9V6H598Z"/>
<path class="g" d="M603 -9H607L611 0L607 9H603L607 0Z"/><path class="g" d="M607 -9H611L615 0L611 9H607L611 0Z"/><path class="g" d="M611 -9H615L619 0L615 9H611L615 0Z"/><path class="g" d="M615 -9H619L623 0L619 9H615L619 0Z"/>
<path class="g" d="M623 -6H633V-9L638 0L633 9V6H623Z"/>
<path class="b32" d="M638 -9L641 0L638 9Z"/><path class="b32" d="M641 -9L644 0L641 9Z"/><path class="g" d="M640 -9H646L650 0L646 9H640L644 0Z"/>
<path class="b34" d="M650 -6H657V-9L664 0L657 9V6H650Z"/>
<text class="n" transform="translate(494,-11) rotate(-45)">37</text><text class="n" transform="translate(505,-11) rotate(-45)">25</text>
<text class="n" transform="translate(550,-11) rotate(-45)">30</text><text class="n" transform="translate(599,-11) rotate(-45)">35</text>
<text class="n" transform="translate(637,-11) rotate(-45)">31</text><text class="n" transform="translate(654,-11) rotate(-45)">34</text>
<path class="tk" d="M516 11v3M553 11v3M585 11v3M619 11v3M654 11v3"/>
<text class="k" transform="translate(517,15) rotate(-45)">65K</text><text class="k" transform="translate(554,15) rotate(-45)">70K</text>
<text class="k" transform="translate(586,15) rotate(-45)">75K</text><text class="k" transform="translate(620,15) rotate(-45)">80K</text>
<text class="k" transform="translate(655,15) rotate(-45)">85K</text>
</g>
</g>

<!-- HCTV-5 -->
<g id="hctv5">
<text class="nm" x="34" y="441">HCTV-5</text>
<g class="t" transform="translate(0,437)">
<path class="fr" d="M121 -11V11H197V-11"/>
<path class="c20" d="M122 -9L126 0L122 9Z"/><path class="g" d="M122 -9H126L130 0L126 9H122L126 0Z"/>
<path class="c2" d="M130 -6H142V-9L149 0L142 9V6H130Z"/>
<path class="g" d="M145 -9H151L155 0L151 9H145L149 0Z"/><path class="g" d="M151 -9H157L161 0L157 9H151L155 0Z"/><path class="g" d="M157 -9H163L167 0L163 9H157L161 0Z"/><path class="g" d="M163 -9H169L173 0L169 9H163L167 0Z"/><path class="g" d="M169 -9H175L179 0L175 9H169L173 0Z"/><path class="g" d="M175 -9H181L185 0L181 9H175L179 0Z"/>
<path class="c19" d="M185 -6H191V-9L196 0L191 9V6H185Z"/>
<text class="n" transform="translate(120,-11) rotate(-45)">20</text><text class="n" transform="translate(135,-11) rotate(-45)">2</text>
<text class="n" transform="translate(187,-11) rotate(-45)">19S</text>
<path class="tk" d="M140 11v3M176 11v3"/>
<text class="k" transform="translate(141,15) rotate(-45)">10K</text><text class="k" transform="translate(177,15) rotate(-45)">15K</text>
</g>
<g class="t" transform="translate(0,437)">
<path class="fr" d="M213 -11V11H465V-11"/>
<path class="c6" d="M214 -9L219 0L214 9Z"/>
<path class="g" d="M215 -9H221L225 0L221 9H215L219 0Z"/><path class="g" d="M221 -9H227L231 0L227 9H221L225 0Z"/><path class="g" d="M227 -9H233L237 0L233 9H227L231 0Z"/>
<path class="d" d="M233 -9H236L240 0L236 9H233L237 0Z"/><path class="c16" d="M241 -6H243V-9L248 0L243 9V6H241Z"/>
<path class="c4" d="M249 -6H251V-9L255 0L251 9V6H249Z"/><path class="c20" d="M256 -9L260 0L256 9Z"/>
<path class="c19" d="M260 -6H274V-9L281 0L274 9V6H260Z"/><path class="g" d="M277 -9H281L285 0L281 9H277L281 0Z"/>
<path class="c4" d="M285 -6H288V-9L293 0L288 9V6H285Z"/><path class="d" d="M293 -6H295V-9L300 0L295 9V6H293Z"/>
<path class="c22" d="M302 -9L306 0L302 9Z"/><path class="cz" d="M306 -9L310 0L306 9Z"/><path class="g" d="M306 -9H312L316 0L312 9H306L310 0Z"/>
<path class="c20" d="M316 -9L320 0L316 9Z"/><path class="cz" d="M320 -6H323V-9L328 0L323 9V6H320Z"/>
<path class="cz" d="M331 -6H332V-9L337 0L332 9V6H331Z"/><path class="cz" d="M338 -9L344 0L338 9Z"/>
<path class="g" d="M340 -9H346L350 0L346 9H340L344 0Z"/><path class="g" d="M346 -9H352L356 0L352 9H346L350 0Z"/><path class="g" d="M352 -9H358L362 0L358 9H352L356 0Z"/><path class="g" d="M358 -9H364L368 0L364 9H358L362 0Z"/>
<path class="g" d="M368 -6H378V-9L383 0L378 9V6H368Z"/><path class="g" d="M379 -9H386L390 0L386 9H379L383 0Z"/><path class="g" d="M386 -9H393L397 0L393 9H386L390 0Z"/>
<path class="c20" d="M399 -9L403 0L399 9Z"/><path class="g" d="M399 -9H404L408 0L404 9H399L403 0Z"/><path class="g" d="M404 -9H409L413 0L409 9H404L408 0Z"/>
<path class="c20" d="M413 -6H418V-9L423 0L418 9V6H413Z"/><path class="d" d="M419 -9H425L429 0L425 9H419L423 0Z"/>
<path class="rb" d="M431 -6H436V-9L441 0L436 9V6H431Z"/><path class="g" d="M437 -9H440L444 0L440 9H437L441 0Z"/>
<path class="c20" d="M444 -9L448 0L444 9Z"/><path class="g" d="M444 -9H449L453 0L449 9H444L448 0Z"/><path class="g" d="M449 -9H453L457 0L453 9H449L453 0Z"/>
<path class="th" d="M457 -6H459V-9L464 0L459 9V6H457Z"/>
<text class="n" transform="translate(213,-11) rotate(-45)">6</text><text class="n" transform="translate(241,-11) rotate(-45)">16</text>
<text class="n" transform="translate(249,-11) rotate(-45)">4</text><text class="n" transform="translate(255,-11) rotate(-45)">20</text>
<text class="n" transform="translate(266,-11) rotate(-45)">19E</text><text class="n" transform="translate(300,-11) rotate(-45)">22</text>
<text class="n" transform="translate(314,-11) rotate(-45)">20</text><text class="n" transform="translate(397,-11) rotate(-45)">20</text>
<text class="n" transform="translate(414,-11) rotate(-45)">20</text><text class="n" transform="translate(442,-11) rotate(-45)">20</text>
<path class="tk" d="M222 11v3M257 11v3M290 11v3M323 11v3M357 11v3M392 11v3M427 11v3M462 11v3"/>
<text class="k" transform="translate(223,15) rotate(-45)">20K</text><text class="k" transform="translate(258,15) rotate(-45)">25K</text>
<text class="k" transform="translate(291,15) rotate(-45)">30K</text><text class="k" transform="translate(324,15) rotate(-45)">35K</text>
<text class="k" transform="translate(358,15) rotate(-45)">40K</text><text class="k" transform="translate(393,15) rotate(-45)">45K</text>
<text class="k" transform="translate(428,15) rotate(-45)">50K</text><text class="k" transform="translate(463,15) rotate(-45)">55K</text>
</g>
<g class="t" transform="translate(0,437)">
<path class="fr" d="M491 -11V11H669V-11"/>
<path class="c20" d="M492 -9L497 0L492 9Z"/><path class="b37" d="M497 -6H502V-9L507 0L502 9V6H497Z"/>
<path class="c20" d="M507 -9L511 0L507 9Z"/><path class="b25" d="M511 -6H518V-9L523 0L518 9V6H511Z"/>
<path class="c20" d="M523 -9L528 0L523 9Z"/><path class="d" d="M524 -9H531L535 0L531 9H524L528 0Z"/>
<path class="b30" d="M535 -6H537V-9L542 0L537 9V6H535Z"/><path class="c20" d="M542 -9L547 0L542 9Z"/>
<path class="d" d="M547 -6H557V-9L562 0L557 9V6H547Z"/><path class="c23" d="M567 -9L562 0L567 9Z"/>
<path class="d" d="M567 -6H587V-9L594 0L587 9V6H567Z"/><path class="c22" d="M598 -9L594 0L598 9Z"/>
<path class="g" d="M598 -6H607V-9L612 0L607 9V6H598Z"/><path class="b35" d="M613 -6H618V-9L623 0L618 9V6H613Z"/>
<path class="g" d="M619 -9H624L628 0L624 9H619L623 0Z"/><path class="g" d="M624 -9H629L633 0L629 9H624L628 0Z"/><path class="g" d="M629 -9H634L638 0L634 9H629L633 0Z"/><path class="g" d="M634 -9H640L644 0L640 9H634L638 0Z"/>
<path class="b31" d="M644 -6H647V-9L652 0L647 9V6H644Z"/><path class="b32" d="M652 -9L655 0L652 9Z"/><path class="b32" d="M654 -9L657 0L654 9Z"/>
<path class="b34" d="M657 -6H663V-9L668 0L663 9V6H657Z"/>
<text class="n" transform="translate(491,-11) rotate(-45)">20</text><text class="n" transform="translate(499,-11) rotate(-45)">37</text>
<text class="n" transform="translate(506,-11) rotate(-45)">20</text><text class="n" transform="translate(514,-11) rotate(-45)">25</text>
<text class="n" transform="translate(523,-11) rotate(-45)">20</text><text class="n" transform="translate(535,-11) rotate(-45)">30</text>
<text class="n" transform="translate(542,-11) rotate(-45)">20</text><text class="n" transform="translate(561,-11) rotate(-45)">23</text>
<text class="n" transform="translate(593,-11) rotate(-45)">22</text><text class="n" transform="translate(614,-11) rotate(-45)">35</text>
<text class="n" transform="translate(644,-11) rotate(-45)">27</text><text class="n" transform="translate(651,-11) rotate(-45)">31</text>
<text class="n" transform="translate(659,-11) rotate(-45)">34</text>
<path class="tk" d="M492 11v3M526 11v3M561 11v3M595 11v3M628 11v3M663 11v3"/>
<text class="k" transform="translate(493,15) rotate(-45)">60K</text><text class="k" transform="translate(527,15) rotate(-45)">65K</text>
<text class="k" transform="translate(562,15) rotate(-45)">70K</text><text class="k" transform="translate(596,15) rotate(-45)">75K</text>
<text class="k" transform="translate(629,15) rotate(-45)">80K</text><text class="k" transform="translate(664,15) rotate(-45)">85K</text>
</g>
</g>

<!-- HRTV-5 -->
<g id="hrtv5">
<text class="nm" x="34" y="488">HRTV-5</text>
<g class="t" transform="translate(0,483)">
<path class="fr" d="M121 -11V11H383V-11"/>
<path class="c21" d="M123 -6H129V-9L136 0L129 9V6H123Z"/>
<path class="g" d="M132 -9H137L141 0L137 9H132L136 0Z"/><path class="g" d="M137 -9H142L146 0L142 9H137L141 0Z"/><path class="g" d="M142 -9H147L151 0L147 9H142L146 0Z"/><path class="g" d="M147 -9H151L155 0L151 9H147L151 0Z"/><path class="g" d="M151 -9H155L159 0L155 9H151L155 0Z"/>
<path class="c20" d="M164 -9L159 0L164 9Z"/>
<path class="g" d="M164 -9L170 0L164 9Z"/><path class="g" d="M166 -9H172L176 0L172 9H166L170 0Z"/><path class="g" d="M172 -9H178L182 0L178 9H172L176 0Z"/><path class="g" d="M178 -9H184L188 0L184 9H178L182 0Z"/>
<path class="g" d="M188 -6H196V-9L201 0L196 9V6H188Z"/>
<path class="g" d="M197 -9H203L207 0L203 9H197L201 0Z"/><path class="g" d="M203 -9H208L212 0L208 9H203L207 0Z"/><path class="g" d="M208 -9H213L217 0L213 9H208L212 0Z"/><path class="g" d="M213 -9H218L222 0L218 9H213L217 0Z"/>
<path class="c19" d="M222 -6H226V-9L231 0L226 9V6H222Z"/>
<path class="g" d="M227 -9H233L237 0L233 9H227L231 0Z"/><path class="g" d="M233 -9H239L243 0L239 9H233L237 0Z"/>
<path class="c4" d="M243 -6H245V-9L250 0L245 9V6H243Z"/>
<path class="g" d="M246 -9H250L254 0L250 9H246L250 0Z"/><path class="g" d="M250 -9H254L258 0L254 9H250L254 0Z"/><path class="g" d="M254 -9H259L263 0L259 9H254L258 0Z"/>
<path class="c19" d="M263 -6H276V-9L283 0L276 9V6H263Z"/><path class="th" d="M283 -9L288 0L283 9Z"/>
<path class="d" d="M284 -9H289L293 0L289 9H284L288 0Z"/><path class="g" d="M289 -9H293L297 0L293 9H289L293 0Z"/><path class="g" d="M293 -9H296L300 0L296 9H293L297 0Z"/>
<path class="rb" d="M301 -6H306V-9L311 0L306 9V6H301Z"/><path class="g" d="M307 -9H310L314 0L310 9H307L311 0Z"/>
<path class="c23" d="M323 -6H319V-9L314 0L319 9V6H323Z"/>
<path class="g" d="M325 -6H338V-9L345 0L338 9V6H325Z"/><path class="g" d="M341 -9H346L350 0L346 9H341L345 0Z"/><path class="g" d="M346 -9H351L355 0L351 9H346L350 0Z"/><path class="g" d="M351 -9H356L360 0L356 9H351L355 0Z"/><path class="g" d="M356 -9H361L365 0L361 9H356L360 0Z"/>
<path class="c2" d="M383 -6H372V-9L365 0L372 9V6H383Z"/>
<text class="n" transform="translate(124,-11) rotate(-45)">21</text><text class="n" transform="translate(158,-11) rotate(-45)">20</text>
<text class="n" transform="translate(222,-11) rotate(-45)">19S</text><text class="n" transform="translate(243,-11) rotate(-45)">4</text>
<text class="n" transform="translate(267,-11) rotate(-45)">19E</text><text class="n" transform="translate(315,-11) rotate(-45)">23</text>
<text class="n" transform="translate(372,-11) rotate(-45)">2</text>
<path class="tk" d="M133 11v3M171 11v3M204 11v3M239 11v3M273 11v3M307 11v3M341 11v3M374 11v3"/>
<text class="k" transform="translate(134,15) rotate(-45)">30K</text><text class="k" transform="translate(172,15) rotate(-45)">35K</text>
<text class="k" transform="translate(205,15) rotate(-45)">40K</text><text class="k" transform="translate(240,15) rotate(-45)">45K</text>
<text class="k" transform="translate(274,15) rotate(-45)">50K</text><text class="k" transform="translate(308,15) rotate(-45)">55K</text>
<text class="k" transform="translate(342,15) rotate(-45)">60K</text><text class="k" transform="translate(375,15) rotate(-45)">65K</text>
</g>
<g class="t" transform="translate(0,483)">
<path class="fr" d="M491 -11V11H630V-11"/>
<path class="b37" d="M492 -6H498V-9L503 0L498 9V6H492Z"/><path class="b29" d="M503 -6H508V-9L513 0L508 9V6H503Z"/>
<path class="b28" d="M514 -6H516V-9L521 0L516 9V6H514Z"/><path class="g" d="M517 -9H520L524 0L520 9H517L521 0Z"/><path class="g" d="M520 -9H523L527 0L523 9H520L524 0Z"/>
<path class="b33" d="M527 -6H530V-9L535 0L530 9V6H527Z"/>
<path class="g" d="M531 -9H535L539 0L535 9H531L535 0Z"/><path class="g" d="M535 -9H539L543 0L539 9H535L539 0Z"/><path class="g" d="M543 -6H556V-9L563 0L556 9V6H543Z"/>
<path class="b32" d="M563 -9L567 0L563 9Z"/><path class="b27" d="M567 -6H571V-9L576 0L571 9V6H567Z"/>
<path class="g" d="M572 -9H576L580 0L576 9H572L576 0Z"/><path class="g" d="M576 -9H581L585 0L581 9H576L580 0Z"/>
<path class="b34" d="M585 -6H591V-9L598 0L591 9V6H585Z"/>
<path class="g" d="M598 -6H606V-9L611 0L606 9V6H598Z"/><path class="g" d="M607 -9H612L616 0L612 9H607L611 0Z"/><path class="g" d="M612 -9H616L620 0L616 9H612L616 0Z"/>
<path class="b36" d="M620 -6H624V-9L629 0L624 9V6H620Z"/>
<text class="n" transform="translate(493,-11) rotate(-45)">37</text><text class="n" transform="translate(504,-11) rotate(-45)">25</text>
<text class="n" transform="translate(513,-11) rotate(-45)">28</text><text class="n" transform="translate(527,-11) rotate(-45)">33</text>
<text class="n" transform="translate(561,-11) rotate(-45)">32</text><text class="n" transform="translate(568,-11) rotate(-45)">27</text>
<text class="n" transform="translate(587,-11) rotate(-45)">34</text><text class="n" transform="translate(621,-11) rotate(-45)">36</text>
<path class="tk" d="M503 11v3M538 11v3M575 11v3M608 11v3"/>
<text class="k" transform="translate(504,15) rotate(-45)">5K</text><text class="k" transform="translate(539,15) rotate(-45)">10K</text>
<text class="k" transform="translate(576,15) rotate(-45)">15K</text><text class="k" transform="translate(609,15) rotate(-45)">20K</text>
</g>
</g>

<!-- HRTV-7 -->
<g id="hrtv7">
<text class="nm" x="34" y="532">HRTV-7</text>
<g class="t" transform="translate(0,528)">
<path class="fr" d="M121 -11V11H312V-11"/>
<path class="c21" d="M122 -9L128 0L122 9Z"/>
<path class="g" d="M124 -9H130L134 0L130 9H124L128 0Z"/><path class="g" d="M130 -9H136L140 0L136 9H130L134 0Z"/><path class="g" d="M136 -9H141L145 0L141 9H136L140 0Z"/><path class="g" d="M141 -9H146L150 0L146 9H141L145 0Z"/><path class="g" d="M146 -9H153L157 0L153 9H146L150 0Z"/>
<path class="c20" d="M165 -6H162V-9L157 0L162 9V6H165Z"/><path class="c5" d="M167 -9L171 0L167 9Z"/>
<path class="g" d="M167 -9H173L177 0L173 9H167L171 0Z"/><path class="g" d="M173 -9H179L183 0L179 9H173L177 0Z"/><path class="g" d="M179 -9H185L189 0L185 9H179L183 0Z"/>
<path class="g" d="M189 -6H200V-9L205 0L200 9V6H189Z"/>
<path class="g" d="M201 -9H207L211 0L207 9H201L205 0Z"/><path class="g" d="M207 -9H213L217 0L213 9H207L211 0Z"/><path class="g" d="M213 -9H218L222 0L218 9H213L217 0Z"/><path class="g" d="M218 -9H223L227 0L223 9H218L222 0Z"/>
<path class="c19" d="M227 -6H232V-9L237 0L232 9V6H227Z"/>
<path class="g" d="M233 -9H238L242 0L238 9H233L237 0Z"/><path class="g" d="M238 -9H243L247 0L243 9H238L242 0Z"/><path class="g" d="M243 -9H249L253 0L249 9H243L247 0Z"/>
<path class="c4" d="M253 -6H254V-9L259 0L254 9V6H253Z"/><path class="c20" d="M259 -6H261V-9L265 0L261 9V6H259Z"/>
<path class="d" d="M261 -9H266L270 0L266 9H261L265 0Z"/>
<path class="g" d="M266 -9H270L274 0L270 9H266L270 0Z"/><path class="g" d="M270 -9H274L278 0L274 9H270L274 0Z"/><path class="g" d="M274 -9H279L283 0L279 9H274L278 0Z"/>
<path class="c19" d="M283 -6H295V-9L302 0L295 9V6H283Z"/><path class="th" d="M302 -6H305V-9L311 0L305 9V6H302Z"/>
<text class="n" transform="translate(121,-11) rotate(-45)">21</text><text class="n" transform="translate(157,-11) rotate(-45)">20</text>
<text class="n" transform="translate(166,-11) rotate(-45)">5</text><text class="n" transform="translate(227,-11) rotate(-45)">19S</text>
<text class="n" transform="translate(252,-11) rotate(-45)">4</text><text class="n" transform="translate(258,-11) rotate(-45)">20</text>
<text class="n" transform="translate(288,-11) rotate(-45)">19E</text>
<path class="tk" d="M133 11v3M170 11v3M204 11v3M238 11v3M273 11v3M307 11v3"/>
<text class="k" transform="translate(134,15) rotate(-45)">30K</text><text class="k" transform="translate(171,15) rotate(-45)">35K</text>
<text class="k" transform="translate(205,15) rotate(-45)">40K</text><text class="k" transform="translate(239,15) rotate(-45)">45K</text>
<text class="k" transform="translate(274,15) rotate(-45)">50K</text><text class="k" transform="translate(308,15) rotate(-45)">55K</text>
</g>
<g class="t" transform="translate(0,528)">
<path class="fr" d="M491 -11V11H626V-11"/>
<path class="b37" d="M492 -6H498V-9L505 0L498 9V6H492Z"/><path class="b29" d="M505 -6H510V-9L515 0L510 9V6H505Z"/>
<path class="b28" d="M516 -6H519V-9L524 0L519 9V6H516Z"/><path class="g" d="M520 -9H524L528 0L524 9H520L524 0Z"/><path class="g" d="M524 -9H528L532 0L528 9H524L528 0Z"/>
<path class="b33" d="M532 -9L538 0L532 9Z"/><path class="g" d="M534 -9H540L544 0L540 9H534L538 0Z"/>
<path class="g" d="M544 -6H552V-9L557 0L552 9V6H544Z"/><path class="b32" d="M557 -9L562 0L557 9Z"/>
<path class="b27" d="M562 -6H565V-9L570 0L565 9V6H562Z"/><path class="g" d="M566 -9H571L575 0L571 9H566L570 0Z"/><path class="g" d="M571 -9H575L579 0L575 9H571L575 0Z"/>
<path class="b34" d="M579 -6H586V-9L593 0L586 9V6H579Z"/>
<path class="g" d="M593 -6H601V-9L606 0L601 9V6H593Z"/><path class="g" d="M602 -9H607L611 0L607 9H602L606 0Z"/><path class="g" d="M607 -9H611L615 0L611 9H607L611 0Z"/>
<path class="b36" d="M615 -6H620V-9L625 0L620 9V6H615Z"/>
<text class="n" transform="translate(494,-11) rotate(-45)">37</text><text class="n" transform="translate(506,-11) rotate(-45)">25</text>
<text class="n" transform="translate(516,-11) rotate(-45)">28</text><text class="n" transform="translate(531,-11) rotate(-45)">33</text>
<text class="n" transform="translate(555,-11) rotate(-45)">32</text><text class="n" transform="translate(562,-11) rotate(-45)">27</text>
<text class="n" transform="translate(582,-11) rotate(-45)">34</text><text class="n" transform="translate(616,-11) rotate(-45)">36</text>
<path class="tk" d="M503 11v3M541 11v3M578 11v3M609 11v3"/>
<text class="k" transform="translate(504,15) rotate(-45)">5K</text><text class="k" transform="translate(542,15) rotate(-45)">10K</text>
<text class="k" transform="translate(579,15) rotate(-45)">15K</text><text class="k" transform="translate(610,15) rotate(-45)">20K</text>
</g>
</g>

<!-- connectors: pointer arrows and genome breaks -->
<g id="connectors">
<line class="con" x1="267" y1="78" x2="267" y2="95" marker-end="url(#ah)"/>
<line class="con" x1="205" y1="181" x2="205" y2="165" marker-end="url(#ah)"/>
<line class="brk" x1="202" y1="399" x2="210" y2="377"/><line class="brk" x1="208" y1="399" x2="216" y2="377"/>
<line class="brk" x1="197" y1="447" x2="205" y2="425"/><line class="brk" x1="203" y1="447" x2="211" y2="425"/>
</g>

<!-- legend -->
<g id="legend">
<rect class="c1" x="36" y="561" width="9.5" height="10"/><text class="ln" x="40.8" y="569.5">1</text>
<rect class="c2" x="50" y="561" width="9.5" height="10"/><text class="ln" x="54.8" y="569.5">2</text>
<rect class="c3" x="65" y="561" width="9.5" height="10"/><text class="ln" x="69.8" y="569.5">3</text>
<rect class="c4" x="79" y="561" width="9.5" height="10"/><text class="ln" x="83.8" y="569.5">4</text>
<rect class="c5" x="94" y="561" width="9.5" height="10"/><text class="ln" x="98.8" y="569.5">5</text>
<rect class="c6" x="109" y="561" width="9.5" height="10"/><text class="ln" x="113.8" y="569.5">6</text>
<rect class="c7" x="124" y="561" width="9.5" height="10"/><text class="ln" x="128.8" y="569.5">7</text>
<rect class="c8" x="139" y="561" width="9.5" height="10"/><text class="ln" x="143.8" y="569.5">8</text>
<rect class="c9" x="154" y="561" width="9.5" height="10"/><text class="ln" x="158.8" y="569.5">9</text>
<rect class="c10" x="169" y="561" width="9.5" height="10"/><text class="ln" x="173.8" y="569.5">10</text>
<rect class="c11" x="184" y="561" width="9.5" height="10"/><text class="ln" x="188.8" y="569.5">11</text>
<rect class="c12" x="198" y="561" width="9.5" height="10"/><text class="ln" x="202.8" y="569.5">12</text>
<rect class="c13" x="213" y="561" width="9.5" height="10"/><text class="ln" x="217.8" y="569.5">13</text>
<rect class="c14" x="228" y="561" width="9.5" height="10"/><text class="ln" x="232.8" y="569.5">14</text>
<rect class="c15" x="243" y="561" width="9.5" height="10"/><text class="ln" x="247.8" y="569.5">15</text>
<rect class="c16" x="257" y="561" width="9.5" height="10"/><text class="ln" x="261.8" y="569.5">16</text>
<rect class="c17" x="272" y="561" width="9.5" height="10"/><text class="ln" x="276.8" y="569.5">17</text>
<rect class="c18" x="287" y="561" width="9.5" height="10"/><text class="ln" x="291.8" y="569.5">18</text>
<rect class="c19" x="306" y="561" width="10" height="10"/><text class="ln" x="311" y="569.5">19</text>
<rect class="c20" x="325" y="561" width="9.5" height="10"/><text class="ln" x="329.8" y="569.5">20</text>
<rect class="c21" x="339" y="561" width="9.5" height="10"/><text class="ln" x="343.8" y="569.5">21</text>
<rect class="c22" x="353" y="561" width="9.5" height="10"/><text class="ln" x="357.8" y="569.5">22</text>
<rect class="c23" x="367" y="561" width="9.5" height="10"/><text class="ln" x="371.8" y="569.5">23</text>
<rect class="c24" x="382" y="561" width="9.5" height="10"/><text class="ln" x="386.8" y="569.5">24</text>
<rect class="g" x="410" y="561" width="9.5" height="10"/>
<rect class="d" x="424" y="561" width="9.5" height="10"/>
<rect class="gr" x="440" y="561" width="9.5" height="10"/>
<rect class="tr" x="456" y="561" width="9.5" height="10"/>
<rect class="cz" x="470" y="561" width="9.5" height="10"/>
<rect class="th" x="484" y="561" width="9.5" height="10"/>
<rect class="rb" x="498" y="561" width="9.5" height="10"/>
<rect class="zt" x="513" y="561" width="9.5" height="10"/>
<rect class="b25" x="544" y="561" width="9.5" height="10"/><text class="ln" x="548.8" y="569.5">25</text>
<rect class="b26" x="557" y="561" width="9.5" height="10"/><text class="ln" x="561.8" y="569.5">26</text>
<rect class="b27" x="569" y="561" width="9.5" height="10"/><text class="ln" x="573.8" y="569.5">27</text>
<rect class="b28" x="583" y="561" width="9.5" height="10"/><text class="ln" x="587.8" y="569.5">28</text>
<rect class="b29" x="598" y="561" width="9.5" height="10"/><text class="ln" x="602.8" y="569.5">29</text>
<rect class="b30" x="613" y="561" width="9.5" height="10"/><text class="ln" x="617.8" y="569.5">30</text>
<rect class="b31" x="627" y="561" width="9.5" height="10"/><text class="ln" x="631.8" y="569.5">31</text>
<rect class="b32" x="643" y="561" width="9.5" height="10"/><text class="ln" x="647.8" y="569.5">32</text>
<rect x="657" y="561" width="9.5" height="10" fill="#5777C2"/><text class="ln" x="661.8" y="569.5">33</text>
<rect x="672" y="561" width="9.5" height="10" fill="#3F5EAA"/><text class="ln" x="676.8" y="569.5">34</text>
<rect x="687" y="561" width="9.5" height="10" fill="#3A58A6"/><text class="ln" x="691.8" y="569.5">35</text>
<rect x="702" y="561" width="9.5" height="10" fill="#2E4998"/><text class="ln" x="706.8" y="569.5">36</text>
<rect x="716" y="561" width="9.5" height="10" fill="#22347F"/><text class="ln" x="720.8" y="569.5">37</text>
<g class="lg">
<text transform="translate(37,576) rotate(45)">Cas4 Superfamily</text>
<text transform="translate(51,576) rotate(45)">Ribonucleotide reductase</text>
<text transform="translate(66,576) rotate(45)">putative DNA-binding protein</text>
<text transform="translate(80,576) rotate(45)">PD-(D/E)XK nuclease</text>
<text transform="translate(95,576) rotate(45)">ERCC4-type nuclease</text>
<text transform="translate(110,576) rotate(45)">RadA</text>
<text transform="translate(125,576) rotate(45)">putative thermostable DNA ligase</text>
<text transform="translate(140,576) rotate(45)">replication factor C large subunit</text>
<text transform="translate(155,576) rotate(45)">radB-like recombinase</text>
<text transform="translate(170,576) rotate(45)">transcription factor TFIIB</text>
<text transform="translate(185,576) rotate(45)">DnaJ central domain</text>
<text transform="translate(199,576) rotate(45)">DnaQ-like 3'-5' exonuclease</text>
<text transform="translate(214,576) rotate(45)">ATP dependent DNA ligase</text>
<text transform="translate(229,576) rotate(45)">SNF2 family helicase</text>
<text transform="translate(244,576) rotate(45)">Primase AE_Prim_S</text>
<text transform="translate(258,576) rotate(45)">Replication factor C small subunit</text>
<text transform="translate(273,576) rotate(45)">DNA replicative helicase</text>
<text transform="translate(288,576) rotate(45)">DNA polymerase sliding clamp</text>
<text transform="translate(312,575) rotate(45)">DNA polymerase family B<tspan x="0" dy="7">(S - small subunit E: Elongation subunit)</tspan></text>
<text transform="translate(326,576) rotate(45)">HNH protein</text>
<text transform="translate(340,576) rotate(45)">RadG-related DNA helicase</text>
<text transform="translate(354,576) rotate(45)">LAGLIDADG endonuclease</text>
<text transform="translate(368,576) rotate(45)">Integrase</text>
<text transform="translate(383,576) rotate(45)">UvrD-like helicase/homing endonuclease</text>
<text transform="translate(411,576) rotate(45)">hyp. protein</text>
<text transform="translate(425,576) rotate(45)">Conserved DUF</text>
<text transform="translate(441,576) rotate(45)">GroEL/Thermosome</text>
<text transform="translate(457,576) rotate(45)">TrF family protein</text>
<text transform="translate(471,576) rotate(45)">Coenzyme transport and metabolism protein</text>
<text transform="translate(485,576) rotate(45)">thymidylate synthase</text>
<text transform="translate(499,576) rotate(45)">RecB</text>
<text transform="translate(514,576) rotate(45)">zeta toxin domain protein</text>
<text transform="translate(545,576) rotate(45)">portal protein</text>
<text transform="translate(558,576) rotate(45)">minor tail protein</text>
<text transform="translate(570,576) rotate(45)">tail sheath</text>
<text transform="translate(584,576) rotate(45)">Putative tail fiber protein</text>
<text transform="translate(599,576) rotate(45)">phage prohead protease</text>
<text transform="translate(614,576) rotate(45)">gp6-like protein</text>
<text transform="translate(628,576) rotate(45)">Phage tail assembly chaperone protein</text>
<text transform="translate(644,576) rotate(45)">tail tube</text>
<text transform="translate(658,576) rotate(45)">tail assembly chaperone</text>
<text transform="translate(673,576) rotate(45)">tail tape measure protein</text>
<text transform="translate(688,576) rotate(45)">major capsid protein</text>
<text transform="translate(703,576) rotate(45)">baseplate J-like protein</text>
<text transform="translate(717,576) rotate(45)">terminase</text>
</g>
</g>
</svg>
